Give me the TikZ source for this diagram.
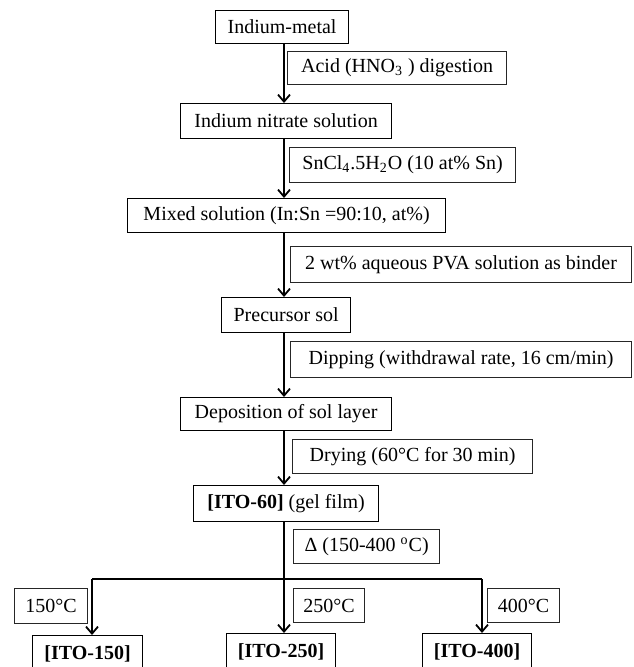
\documentclass[tikz,border=0pt]{standalone}
\usepackage{fontspec}
\setmainfont{Liberation Serif}
\usetikzlibrary{arrows.meta}
\tikzset{
  >={Straight Barb[length=3.5pt,width=6pt,line width=0.9pt]},
  font=\fontsize{10}{12}\selectfont,
  sz/.style 2 args={minimum width=#1*0.5pt,minimum height=#2*0.5pt},
  box/.style={draw,line width=0.6pt,anchor=north west,inner sep=0pt},
  stepbox/.style={box},
  cond/.style={box,draw=black!85},
  prod/.style={box,font=\fontsize{10}{12}\selectfont\bfseries},
  flow/.style={->,line width=1pt},
  trunk/.style={line width=1pt},
}
\begin{document}
\begin{tikzpicture}[x=0.5pt,y=-0.5pt]
  \useasboundingbox (0,0) rectangle (633,667);
  \node[stepbox,sz={133}{33}] (p0) at (215,10) {Indium-metal};
  \node[cond,sz={219}{33}] (c0) at (287,51) {Acid (HNO\textsubscript{3} ) digestion};
  \node[stepbox,sz={211}{35}] (p1) at (180,103) {Indium nitrate solution};
  \node[cond,sz={226}{35}] (c1) at (289,147) {SnCl\textsubscript{4}.5H\textsubscript{2}O (10 at\% Sn)};
  \node[stepbox,sz={318}{34}] (p2) at (127,198) {Mixed solution (In:Sn =90:10, at\%)};
  \node[cond,sz={341}{36}] (c2) at (290,246) {2 wt\% aqueous PVA solution as binder};
  \node[stepbox,sz={129}{35}] (p3) at (221,297) {Precursor sol};
  \node[cond,sz={341}{36}] (c3) at (290,341) {Dipping (withdrawal rate, 16 cm/min)};
  \node[stepbox,sz={211}{33}] (p4) at (180,397) {Deposition of sol layer};
  \node[cond,sz={240}{34}] (c4) at (292,439) {Drying (60°C for 30 min)};
  \node[stepbox,sz={185}{36}] (p5) at (193,485) {\textbf{[ITO-60]} (gel film)};
  \node[cond,sz={146}{34}] (c5) at (293,529) {Δ (150-400 \textsuperscript{o}C)};

  \node[cond,sz={73}{35}] (t150) at (14,588) {150°C};
  \node[cond,sz={71}{34}] (t250) at (293,588) {250°C};
  \node[cond,sz={72}{34}] (t400) at (487,588) {400°C};
  \node[prod,sz={110}{37}] (r150) at (32,635) {[ITO-150]};
  \node[prod,sz={109}{37}] (r250) at (226,633) {[ITO-250]};
  \node[prod,sz={109}{37}] (r400) at (422,633) {[ITO-400]};

  \coordinate (ax) at (284,0);
  \coordinate (bm) at (284,579);
  \coordinate (bl) at (92,579);
  \coordinate (br) at (482,579);

  \draw[flow] (p0.south -| ax) -- (p1.north -| ax);
  \draw[flow] (p1.south -| ax) -- (p2.north -| ax);
  \draw[flow] (p2.south -| ax) -- (p3.north -| ax);
  \draw[flow] (p3.south -| ax) -- (p4.north -| ax);
  \draw[flow] (p4.south -| ax) -- (p5.north -| ax);
  \draw[trunk] (p5.south -| ax) -- (bm);
  \draw[trunk] (bl) -- (br);
  \draw[flow] (bl) -- (r150.north -| bl);
  \draw[flow] (bm) -- (r250.north -| bm);
  \draw[flow] (br) -- (r400.north -| br);
\end{tikzpicture}
\end{document}
